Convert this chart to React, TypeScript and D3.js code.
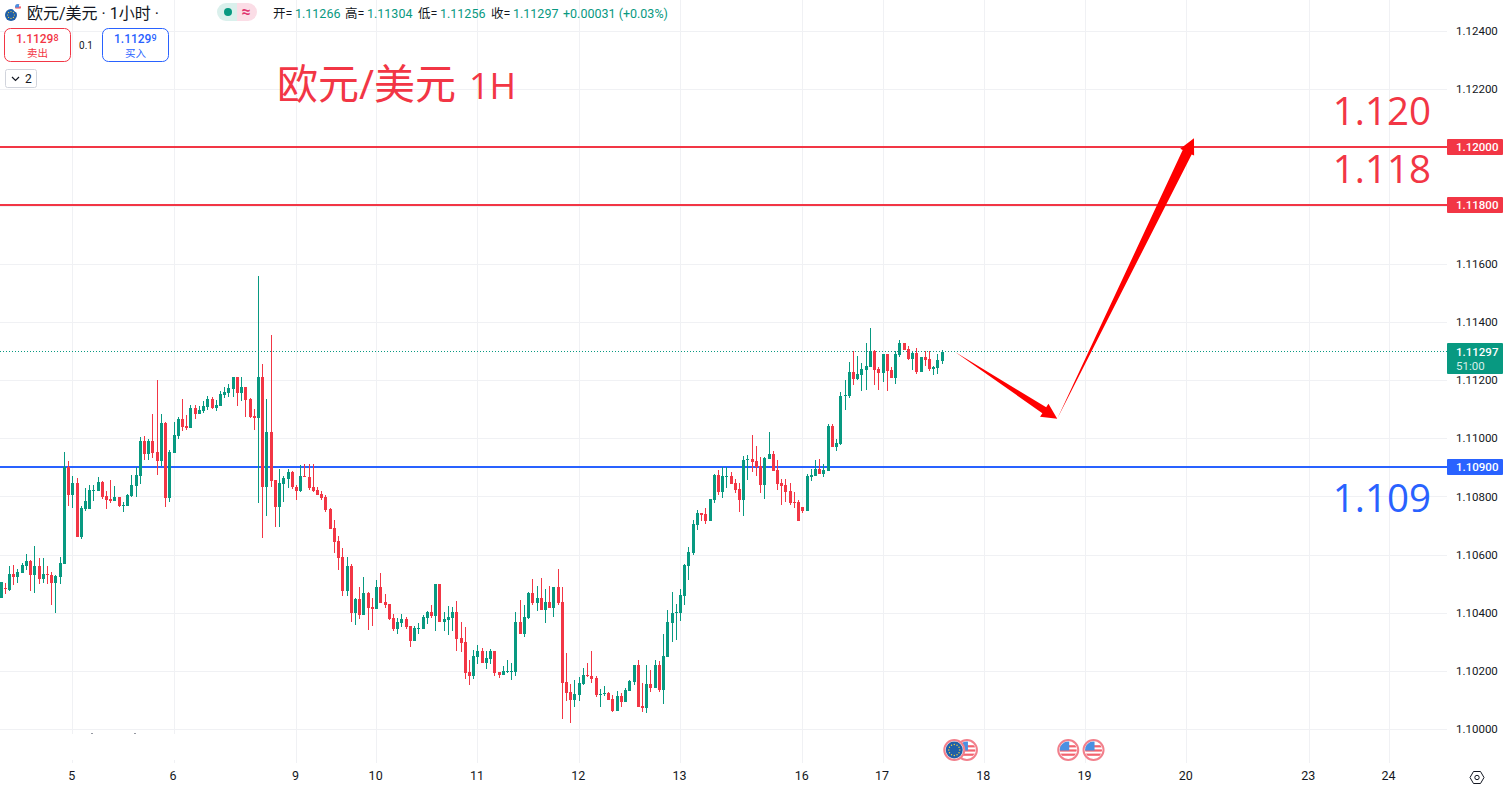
import React, { useEffect, useRef } from 'react';
import * as d3 from 'd3';

// Candles are [open, high, low, close] in points above 1.10000
const day04 = [[452,505,449,505],[485,501,464,482],[478,561,475,533],[533,563,495,523],[523,550,503,539],[536,570,536,564],[561,602,547,578],[578,581,475,530],[530,629,468,561],[561,588,500,516],[516,588,502,533],[533,561,500,530],[530,540,426,502],[502,530,400,526],[523,592,500,571],[567,953,567,901],[901,922,767,805]];
const day05 = [[805,870,760,846],[846,863,660,660],[660,767,654,760],[757,829,750,784],[757,839,757,822],[819,839,784,822],[819,867,819,850],[850,853,791,798],[801,819,757,788],[791,857,777,784],[784,836,784,798],[798,798,764,767],[767,781,746,770],[767,808,767,805],[801,874,798,839],[836,901,798,874],[870,1005,843,991],[991,1008,925,946],[946,998,925,991],[991,1084,932,950],[953,1201,874,922],[922,1084,905,1053],[1053,1056,764,795],[795,960,781,953]];
const day06 = [[950,1056,950,1011],[1008,1073,998,1066],[1066,1135,1025,1039],[1042,1080,1029,1036],[1036,1115,1036,1104],[1104,1115,1066,1084],[1084,1111,1084,1098],[1094,1128,1087,1111],[1108,1146,1098,1135],[1135,1142,1101,1104],[1104,1132,1094,1115],[1111,1163,1111,1152],[1149,1177,1139,1159],[1156,1187,1142,1173],[1170,1211,1142,1211],[1211,1211,1111,1156],[1156,1211,1128,1177],[1177,1177,1073,1132],[1135,1139,1070,1073],[1077,1101,1029,1070],[1070,1559,777,1211],[1211,1256,657,832],[832,1135,733,1022],[1022,1356,832,853],[857,857,695,764],[764,894,695,846],[843,870,781,863],[860,894,829,884],[884,888,826,832]];
const day09 = [[832,839,788,819],[819,908,815,870],[870,912,867,867],[867,912,822,829],[832,912,815,819],[822,832,805,805],[808,819,788,795],[798,805,746,753],[757,760,688,688],[691,719,605,643],[647,664,547,588],[591,622,457,474],[474,591,457,560],[560,567,368,399],[399,450,357,447],[447,488,378,392],[392,522,392,467],[467,471,340,416],[419,450,354,412]];
const day10 = [[412,512,412,488],[488,536,433,433],[436,464,416,426],[429,429,374,378],[381,395,337,343],[343,381,326,368],[364,395,350,378],[378,385,343,350],[354,354,282,302],[302,354,302,347],[343,364,326,347],[343,392,343,385],[381,405,361,402],[402,426,381,388],[388,498,337,498],[498,498,368,368],[368,402,337,378],[374,423,323,385],[381,419,337,402],[402,440,268,309],[312,368,264,295],[299,350,171,192],[196,237,151,182],[182,271,171,251]];
const day11 = [[247,288,223,268],[268,278,226,226],[226,268,206,244],[240,275,223,268],[268,268,182,192],[196,196,175,185],[185,216,185,199],[196,237,192,199],[196,226,168,199],[196,402,182,368],[368,443,326,326],[326,426,316,385],[381,471,378,467],[467,516,426,433],[433,491,405,450],[450,519,409,409],[409,481,364,436],[436,491,416,416],[416,488,385,488],[488,550,426,433],[436,488,33,157],[161,261,95,123],[126,154,20,99],[99,168,75,119]];
const day12 = [[116,178,95,157],[154,209,150,185],[185,226,178,181],[181,267,157,171],[174,181,109,116],[116,137,75,119],[119,147,113,123],[123,126,99,99],[102,116,58,61],[61,130,61,113],[113,123,75,92],[92,140,92,133],[130,168,130,164],[161,219,150,219],[219,236,75,75],[78,157,58,71],[71,219,54,154],[154,202,126,140],[140,236,140,219],[219,233,126,133],[133,326,85,250],[247,408,247,367],[364,470,298,398],[398,429,305,402]];
const day13 = [[398,481,371,460],[457,567,426,563],[560,625,512,608],[605,718,598,704],[701,753,684,742],[742,742,715,735],[739,759,704,715],[716,791,716,791],[788,877,777,874],[874,891,805,815],[815,901,795,870],[867,901,829,870],[870,884,843,843],[846,860,812,822],[826,846,746,788],[788,939,733,925],[925,943,857,929],[929,1011,884,919],[922,974,870,901],[905,936,812,839],[839,936,791,932],[929,1022,929,946],[946,956,888,888],[891,925,822,843],[846,860,771,836],[839,860,781,815],[819,846,771,777],[781,815,760,777],[781,788,715,715]];
const day16 = [[764,764,743,750],[750,877,750,870],[867,894,853,874],[870,925,870,894],[894,929,877,877],[877,912,867,891],[888,1049,888,1042],[1042,1049,970,970],[970,998,957,984],[981,1160,977,1146],[1146,1201,1098,1150],[1146,1263,1139,1229],[1229,1298,1184,1205],[1205,1284,1201,1222],[1218,1260,1163,1239],[1236,1328,1167,1249],[1246,1380,1246,1300],[1300,1304,1184,1236],[1239,1246,1167,1225]];
const day17 = [[1225,1291,1194,1291],[1291,1291,1163,1232],[1236,1246,1208,1208],[1208,1298,1187,1291],[1287,1339,1280,1328],[1328,1328,1304,1304],[1308,1318,1270,1273],[1273,1298,1236,1294],[1294,1311,1222,1229],[1229,1280,1229,1280],[1280,1301,1249,1270],[1273,1298,1232,1239],[1239,1249,1218,1246],[1242,1291,1222,1270],[1266,1304,1256,1297]];

// Bar numbers count from the first bar of the 5th
const timeTicks = [0, 24, 53, 72, 96, 120, 144, 173, 192, 216, 240, 264, 293, 312];
const timeLabels = ['5', '6', '9', '10', '11', '12', '13', '16', '17', '18', '19', '20', '23', '24'];
const priceTicks = [1.1, 1.102, 1.104, 1.106, 1.108, 1.11, 1.112, 1.114, 1.116, 1.118, 1.12, 1.122, 1.124];
const levelPrices = [1.12, 1.118, 1.109];
const levelLabels = ['1.120', '1.118', '1.109'];
const lastPrice = 1.11297;
// [bar, price] of the two drawn arrows
const arrowDown = [[209.2, 1.11296], [233.4, 1.11067]];
const arrowUp = [[233.4, 1.11067], [265.8, 1.12031]];
const eventBars = [209, 212, 236, 242];
const eventKinds = ['eu', 'us', 'us', 'us'];

const GREEN = '#089981';
const RED = '#f23645';
const BLUE = '#2962ff';
const GRID = '#f0f1f4';
const INK = '#131722';
const FONT = 'Roboto, "Noto Sans CJK SC", sans-serif';
const NOTE_FONT = '"Open Sans", "Noto Sans CJK SC", sans-serif';

const toPrice = (v: number) => 1.1 + v / 100000;

const drawFlag = (g: any, cx: number, cy: number, r: number, kind: string, id: string) => {
  g.append('circle').attr('cx', cx).attr('cy', cy).attr('r', r).attr('fill', '#fff').attr('stroke', kind === 'none' ? 'none' : '#f2808c').attr('stroke-width', 2);
  const clip = g.append('clipPath').attr('id', id);
  clip.append('circle').attr('cx', cx).attr('cy', cy).attr('r', r - 1.5);
  const inner = g.append('g').attr('clip-path', `url(#${id})`);
  if (kind === 'us') {
    d3.range(-1, 2).forEach(k => {
      inner.append('rect').attr('x', cx - r).attr('y', cy + k * 4.2 - 0.6).attr('width', 2 * r).attr('height', 2.2).attr('fill', '#f2626e');
    });
    inner.append('rect').attr('x', cx - r).attr('y', cy - r).attr('width', r + 1).attr('height', r + 0.5).attr('fill', '#4a90e2');
  } else {
    inner.append('rect').attr('x', cx - r).attr('y', cy - r).attr('width', 2 * r).attr('height', 2 * r).attr('fill', '#1f5fa8');
    d3.range(12).forEach(k => {
      const a = (k * Math.PI) / 6;
      inner.append('circle').attr('cx', cx + Math.cos(a) * r * 0.55).attr('cy', cy + Math.sin(a) * r * 0.55).attr('r', 0.7).attr('fill', '#f4d03f');
    });
  }
};

// Tapered arrow as TradingView draws it: a point at the start, a wedge, then the head
const arrowPath = (x0: number, y0: number, x1: number, y1: number, neck: number) => {
  const len = Math.hypot(x1 - x0, y1 - y0);
  const ux = (x1 - x0) / len;
  const uy = (y1 - y0) / len;
  const nx = -uy;
  const ny = ux;
  const bx = x1 - ux * 15.5;
  const by = y1 - uy * 15.5;
  const pts = [
    [x0, y0],
    [bx + nx * neck, by + ny * neck],
    [bx + nx * 7.7, by + ny * 7.7],
    [x1, y1],
    [bx - nx * 7.7, by - ny * 7.7],
    [bx - nx * neck, by - ny * neck],
  ];
  return d3.line()(pts as [number, number][]) + 'Z';
};

const App = () => {
  const ref = useRef<SVGSVGElement | null>(null);

  useEffect(() => {
    const svg = d3.select(ref.current);
    svg.selectAll('*').remove();

    const width = 1506;
    const height = 788;
    const plotRight = 1447;
    const plotBottom = 763;

    const bars = [...day04, ...day05, ...day06, ...day09, ...day10, ...day11, ...day12, ...day13, ...day16, ...day17]
      .map((d, i) => ({ i: i - day04.length, open: toPrice(d[0]), high: toPrice(d[1]), low: toPrice(d[2]), close: toPrice(d[3]) }));

    const x = d3.scaleLinear().domain([0, 312]).range([72.3, 72.3 + 312 * 4.22]);
    const y = d3.scaleLinear().domain([1.1, 1.124]).range([729, 31]);

    svg.append('rect').attr('width', width).attr('height', height).attr('fill', '#fff');

    // Grid
    svg.append('g').selectAll('line').data(timeTicks).enter().append('line')
      .attr('x1', d => Math.round(x(d)) + 0.5).attr('x2', d => Math.round(x(d)) + 0.5)
      .attr('y1', 0).attr('y2', plotBottom).attr('stroke', GRID);
    svg.append('g').selectAll('line').data(priceTicks).enter().append('line')
      .attr('x1', 0).attr('x2', plotRight)
      .attr('y1', d => Math.round(y(d)) + 0.5).attr('y2', d => Math.round(y(d)) + 0.5).attr('stroke', GRID);

    // Collapsed pane strip hides the grid on the left
    svg.append('rect').attr('x', 0).attr('y', 734).attr('width', 200).attr('height', 26).attr('fill', '#fff');
    svg.selectAll('.crumb').data([91, 134]).enter().append('rect').attr('class', 'crumb')
      .attr('x', d => d).attr('y', 733).attr('width', 2).attr('height', 1).attr('fill', '#9598a1');

    // Level lines
    svg.append('g').selectAll('line').data(levelPrices).enter().append('line')
      .attr('x1', 0).attr('x2', plotRight)
      .attr('y1', d => Math.floor(y(d))).attr('y2', d => Math.floor(y(d)))
      .attr('stroke', d => (d === 1.109 ? BLUE : RED)).attr('stroke-width', 2);

    // Last price line
    svg.append('line').attr('x1', 0).attr('x2', plotRight)
      .attr('y1', Math.floor(y(lastPrice)) + 0.5).attr('y2', Math.floor(y(lastPrice)) + 0.5)
      .attr('stroke', GREEN).attr('stroke-dasharray', '1 2');

    // Candles
    const candle = svg.append('g').selectAll('g').data(bars).enter().append('g')
      .attr('fill', d => (d.close >= d.open ? GREEN : RED));
    candle.append('rect')
      .attr('x', d => Math.round(x(d.i)))
      .attr('width', 1)
      .attr('y', d => Math.round(y(d.high)))
      .attr('height', d => Math.max(1, Math.round(y(d.low)) - Math.round(y(d.high))));
    candle.append('rect')
      .attr('x', d => Math.round(x(d.i)) - 1)
      .attr('width', 3)
      .attr('y', d => Math.round(y(Math.max(d.open, d.close))))
      .attr('height', d => Math.max(1, Math.round(y(Math.min(d.open, d.close))) - Math.round(y(Math.max(d.open, d.close)))));

    // Arrows
    svg.append('path')
      .attr('d', arrowPath(x(arrowDown[0][0]), y(arrowDown[0][1]), x(arrowDown[1][0]), y(arrowDown[1][1]), 3.5))
      .attr('fill', '#ff0000');
    svg.append('path')
      .attr('d', arrowPath(x(arrowUp[0][0]), y(arrowUp[0][1]), x(arrowUp[1][0]), y(arrowUp[1][1]), 5))
      .attr('fill', '#ff0000');

    // Big notes
    const title = svg.append('text').attr('x', 277).attr('y', 98.5).attr('font-size', 41).attr('font-family', NOTE_FONT).attr('fill', RED);
    title.append('tspan').text('欧元/美元');
    title.append('tspan').attr('x', 469).attr('font-size', 36).text('1H');
    svg.append('g').selectAll('text').data(levelLabels).enter().append('text')
      .attr('x', 1431).attr('y', (d, i) => [125, 183, 512][i])
      .attr('text-anchor', 'end').attr('font-size', 38.5).attr('font-family', NOTE_FONT)
      .attr('fill', d => (d === '1.109' ? BLUE : RED)).text(d => d);

    // Axes
    const yAxis = svg.append('g').attr('transform', `translate(${plotRight + 9},0)`)
      .call(d3.axisRight(y).tickValues(priceTicks).tickFormat(d3.format('.5f') as any).tickSize(0).tickPadding(0));
    yAxis.select('.domain').remove();
    yAxis.selectAll('text').attr('font-size', 11.5).attr('font-family', FONT).attr('fill', INK);

    const xAxis = svg.append('g').attr('transform', `translate(-1,${plotBottom + 8})`)
      .call(d3.axisBottom(x).tickValues(timeTicks).tickFormat((d, i) => timeLabels[i]).tickSize(0).tickPadding(0));
    xAxis.select('.domain').remove();
    xAxis.selectAll('text').attr('font-size', 12.5).attr('font-family', FONT).attr('fill', INK);

    // Price badges
    levelPrices.forEach(p => {
      const col = p === 1.109 ? BLUE : RED;
      svg.append('rect').attr('x', plotRight).attr('y', Math.floor(y(p)) - 8).attr('width', 56).attr('height', 16).attr('rx', 1).attr('fill', col);
      svg.append('text').attr('x', plotRight + 9).attr('y', Math.floor(y(p)) + 4.2).attr('font-size', 11.5).attr('font-weight', 500)
        .attr('font-family', FONT).attr('fill', '#fff').text(d3.format('.5f')(p));
    });
    svg.append('rect').attr('x', plotRight).attr('y', 343).attr('width', 56).attr('height', 31).attr('rx', 1).attr('fill', GREEN);
    svg.append('text').attr('x', plotRight + 9).attr('y', 355.5).attr('font-size', 11.5).attr('font-weight', 500)
      .attr('font-family', FONT).attr('fill', '#fff').text(d3.format('.5f')(lastPrice));
    svg.append('text').attr('x', plotRight + 9).attr('y', 370).attr('font-size', 11.5)
      .attr('font-family', FONT).attr('fill', '#d7efe9').text('51:00');

    // Event markers
    const events = svg.append('g');
    eventBars.map((b, i) => ({ b, kind: eventKinds[i], i })).reverse().forEach(e => {
      drawFlag(events, x(e.b), 750, 10, e.kind, `ev${e.i}`);
    });

    // Gear
    const gear = svg.append('g').attr('fill', 'none').attr('stroke', INK).attr('stroke-width', 1);
    gear.append('path').attr('d', 'M1473.5 771.5 L1480.5 771.5 L1484 777.5 L1480.5 783.5 L1473.5 783.5 L1470 777.5 Z');
    gear.append('circle').attr('cx', 1477).attr('cy', 777.5).attr('r', 2.2);

    // Header
    const head = svg.append('g').attr('font-family', FONT);
    head.append('circle').attr('cx', 11).attr('cy', 15).attr('r', 6).attr('fill', '#1f5fa8');
    d3.range(8).forEach(k => {
      const a = (k * Math.PI) / 4;
      head.append('circle').attr('cx', 11 + Math.cos(a) * 3.4).attr('cy', 15 + Math.sin(a) * 3.4).attr('r', 0.6).attr('fill', '#f4d03f');
    });
    drawFlag(head, 18, 7, 4.5, 'us', 'hd');
    head.select('circle[stroke="#f2808c"]').attr('stroke', '#fff');
    head.append('text').attr('x', 27).attr('y', 18.5).attr('font-size', 16).attr('fill', INK).text('欧元/美元 · 1小时 ·');

    // Market status pill
    head.append('path').attr('d', 'M237 3 H226 A9 9 0 0 0 226 21 H237 Z').attr('fill', '#daf0ec');
    head.append('path').attr('d', 'M237 3 H248 A9 9 0 0 1 248 21 H237 Z').attr('fill', '#fbdde6');
    head.append('circle').attr('cx', 228).attr('cy', 12).attr('r', 4).attr('fill', GREEN);
    head.append('text').attr('x', 246).attr('y', 17).attr('text-anchor', 'middle').attr('font-size', 16).attr('font-weight', 700).attr('fill', '#e0336e').text('≈');

    const ohlcLabels = ['开=', '高=', '低=', '收='];
    const ohlcValues = ['1.11266', '1.11304', '1.11256', '1.11297'];
    const ohlcX = [273, 345, 418, 491];
    ohlcLabels.forEach((label, i) => {
      const t = head.append('text').attr('x', ohlcX[i]).attr('y', 17.5).attr('font-size', 12.5).attr('fill', INK);
      t.append('tspan').text(label);
      t.append('tspan').attr('x', ohlcX[i] + 22).attr('fill', GREEN).text(ohlcValues[i]);
    });
    head.append('text').attr('x', 563).attr('y', 17.5).attr('font-size', 12.5).attr('fill', GREEN).text('+0.00031 (+0.03%)');

    // Buy and sell boxes
    const boxes = [
      { x: 4.5, col: RED, price: '1.1129', small: '8', label: '卖出' },
      { x: 102.5, col: BLUE, price: '1.1129', small: '9', label: '买入' },
    ];
    boxes.forEach(b => {
      head.append('rect').attr('x', b.x).attr('y', 28.5).attr('width', 66).attr('height', 33).attr('rx', 6)
        .attr('fill', '#fff').attr('stroke', b.col);
      const t = head.append('text').attr('x', b.x + 11.5).attr('y', 42.5).attr('font-size', 12).attr('font-weight', 500).attr('fill', b.col);
      t.append('tspan').text(b.price);
      t.append('tspan').attr('font-size', 9).attr('dy', -2).text(b.small);
      head.append('text').attr('x', b.x + 33).attr('y', 57).attr('text-anchor', 'middle').attr('font-size', 10.5).attr('fill', b.col).text(b.label);
    });
    head.append('text').attr('x', 86).attr('y', 49).attr('text-anchor', 'middle').attr('font-size', 10).attr('fill', INK).text('0.1');

    // Collapsed indicators button
    head.append('rect').attr('x', 5.5).attr('y', 69.5).attr('width', 31).attr('height', 18).attr('rx', 2).attr('fill', '#fff').attr('stroke', '#d1d4dc');
    head.append('path').attr('d', 'M12 77 L15.5 80.5 L19 77').attr('fill', 'none').attr('stroke', INK).attr('stroke-width', 1.2);
    head.append('text').attr('x', 25).attr('y', 83).attr('font-size', 12).attr('fill', INK).text('2');
  }, []);

  return (
    <svg ref={ref} width={1506} height={788} style={{ position: 'fixed', left: 0, top: 0, display: 'block' }} />
  );
};

export default App;
